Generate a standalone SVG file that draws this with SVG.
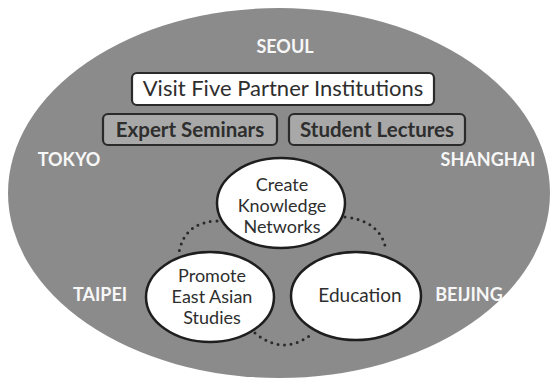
<svg xmlns="http://www.w3.org/2000/svg" width="556" height="383" viewBox="0 0 556 383">
<style>
.city{font-family:Lato,"Open Sans",sans-serif;font-weight:bold;font-size:18px;fill:#f7f7f7;text-anchor:middle}
.box{stroke:#2a2a2a;stroke-width:2.2}
.lbl{font-family:Lato,"Open Sans",sans-serif;fill:#2e2e2e;text-anchor:middle}
.circ{fill:#fff;stroke:#1e1e1e;stroke-width:2.5}
.dot{fill:none;stroke:#2a2a2a;stroke-width:3;stroke-linecap:round;stroke-dasharray:0 6.5}
</style>
<rect width="556" height="383" fill="#fff"/>
<g id="region">
<ellipse cx="279" cy="193" rx="271" ry="185" fill="#8b8b8b"/>
<text class="city" x="285" y="53">SEOUL</text>
<text class="city" x="69" y="166">TOKYO</text>
<text class="city" x="488" y="166">SHANGHAI</text>
<text class="city" x="100" y="301">TAIPEI</text>
<text class="city" x="469" y="301">BEIJING</text>
</g>
<g id="connectors">
<path class="dot" d="M217,221 Q185,222 179,252"/>
<path class="dot" d="M345,217 Q381,221 386,250"/>
<path class="dot" d="M255,333 Q284,357 313,333"/>
</g>
<g id="visit">
<rect class="box" x="132" y="73" width="302" height="32" rx="5" fill="#fff"/>
<text class="lbl" x="283" y="96" font-size="22">Visit Five Partner Institutions</text>
</g>
<g id="expert">
<rect class="box" x="103" y="114" width="174" height="31" rx="5" fill="#a8a8a8"/>
<text class="lbl" x="190" y="137" font-size="20.5" font-weight="bold" fill="#222">Expert Seminars</text>
</g>
<g id="student">
<rect class="box" x="289" y="114" width="176" height="31" rx="5" fill="#a8a8a8"/>
<text class="lbl" x="377" y="137" font-size="20.5" font-weight="bold" fill="#222">Student Lectures</text>
</g>
<g id="create">
<ellipse class="circ" cx="281" cy="203" rx="64" ry="45"/>
<text class="lbl" font-size="18"><tspan x="282" y="191">Create</tspan><tspan x="282" y="212">Knowledge</tspan><tspan x="282" y="233">Networks</tspan></text>
</g>
<g id="promote">
<ellipse class="circ" cx="210" cy="297" rx="64" ry="45"/>
<text class="lbl" font-size="18"><tspan x="212" y="282">Promote</tspan><tspan x="212" y="303">East Asian</tspan><tspan x="212" y="324">Studies</tspan></text>
</g>
<g id="education">
<ellipse class="circ" cx="356" cy="296" rx="65" ry="44"/>
<text class="lbl" x="360" y="302" font-size="19">Education</text>
</g>
</svg>
